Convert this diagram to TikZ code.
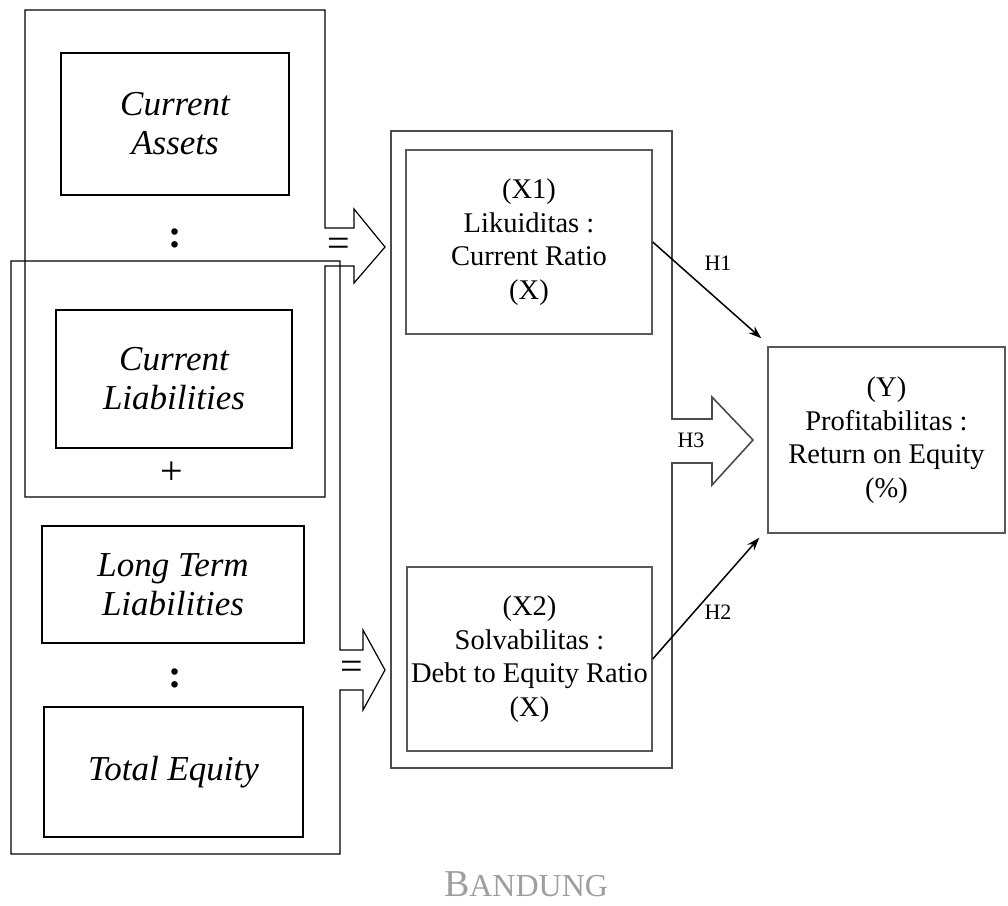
\documentclass[tikz,border=0pt]{standalone}
\usepackage{fontspec}
\setmainfont{Liberation Serif}
\usetikzlibrary{arrows.meta}

\tikzset{
  akun/.style={draw, line width=1.2pt, font=\fontsize{35}{39}\selectfont\itshape,
    align=center, inner sep=0pt},
  rasio/.style={draw=black!65, line width=1.4pt, font=\fontsize{28.5}{33.5}\selectfont,
    align=center, inner sep=0pt},
  tanda/.style={font=\fontsize{40}{40}\selectfont},
  hlabel/.style={font=\fontsize{22}{22}\selectfont},
  blok/.style={line width=1.2pt, line join=miter},
  panah/.style={line width=1.5pt, -{Stealth[length=13pt,width=9pt]}},
}

\begin{document}
\begin{tikzpicture}[x=1pt,y=-1pt]
  \useasboundingbox (0,0) rectangle (1008,905);

  % komponen rasio (kiri)
  \node[akun, minimum width=228, minimum height=142] (ca)  at (175,124)   {Current\\Assets};
  \node[akun, minimum width=236, minimum height=138] (cl)  at (174,379)   {Current\\Liabilities};
  \node[akun, minimum width=262, minimum height=117] (ltl) at (173,584.5) {Long Term\\Liabilities};
  \node[akun, minimum width=259, minimum height=130] (te)  at (173.5,772) {Total Equity};
  \node[tanda] (bagi1)  at (175,238) {\textbf{:}};
  \node[tanda] (tambah) at (172,473) {+};
  \node[tanda] (bagi2)  at (175,678) {\textbf{:}};

  % kelompok current ratio, dengan panah blok
  \draw[blok] (325,228) -- (325,10) -- (25,10) -- (25,497) -- (325,497) -- (325,266)
    -- (354,266) -- (354,283) -- (385,247) -- (354,209) -- (354,228) -- cycle;
  % kelompok debt to equity ratio
  \draw[blok] (340,650) -- (340,261) -- (11,261) -- (11,854) -- (340,854) -- (340,690)
    -- (363,690) -- (363,710) -- (385,670) -- (363,630) -- (363,650) -- cycle;
  \node[tanda] (sama1) at (339,247) {=};
  \node[tanda] (sama2) at (352,670) {=};

  % variabel X
  \node[rasio, minimum width=246, minimum height=184] (x1) at (529,242)
    {(X1)\\Likuiditas :\\Current Ratio\\(X)};
  \node[rasio, minimum width=245, minimum height=184] (x2) at (529.5,659)
    {(X2)\\Solvabilitas :\\Debt to Equity Ratio\\(X)};
  \draw[blok, draw=black!70, line width=1.6pt] (672,419) -- (672,131) -- (391,131) -- (391,768)
    -- (672,768) -- (672,463) -- (712,463) -- (712,485) -- (753,440) -- (712,397)
    -- (712,419) -- cycle;

  % variabel Y
  \node[rasio, minimum width=237, minimum height=186] (y) at (886.5,440)
    {(Y)\\Profitabilitas :\\Return on Equity\\(\%)};

  % hipotesis
  \coordinate (h1ujung) at ([shift={(-6,-8)}]y.north west);
  \coordinate (h2ujung) at ([shift={(-8,4)}]y.south west);
  \draw[panah] (x1.east) -- (h1ujung);
  \draw[panah] (x2.east) -- (h2ujung);
  \node[hlabel] (h1) at (718,263) {H1};
  \node[hlabel] (h3) at (691,440) {H3};
  \node[hlabel] (h2) at (718,612) {H2};

  \node[text=black!38, inner sep=0pt] (kota) at (526,884)
    {\fontsize{38}{38}\selectfont B\fontsize{32}{32}\selectfont ANDUNG};
\end{tikzpicture}
\end{document}
